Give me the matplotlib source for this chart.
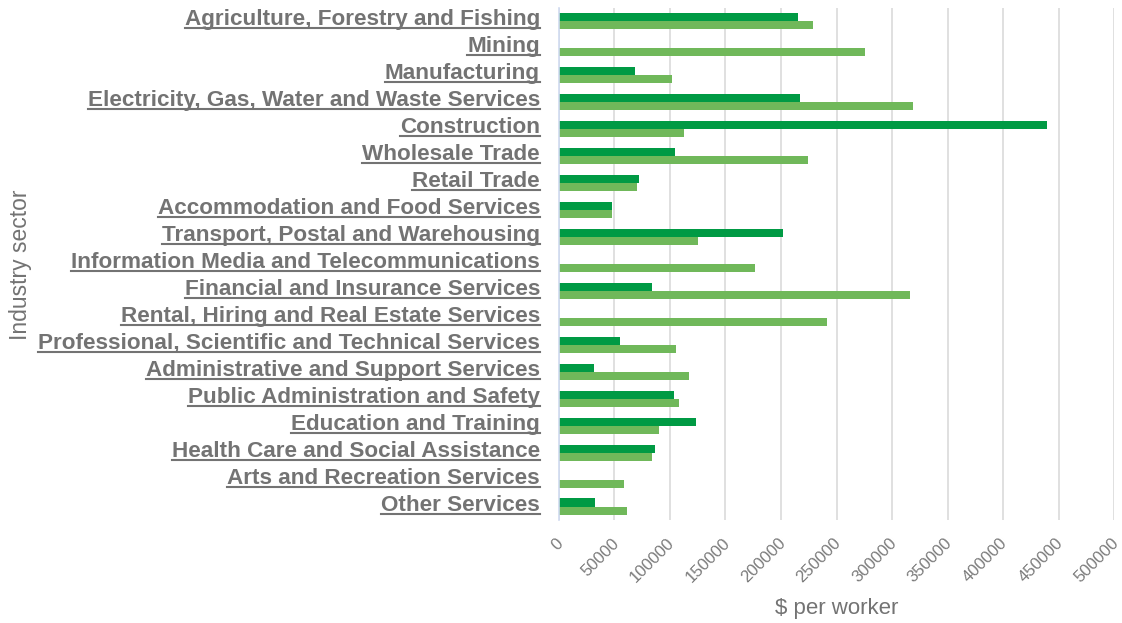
import numpy as np
import matplotlib
matplotlib.use("Agg")
import matplotlib.pyplot as plt
from matplotlib.lines import Line2D
from matplotlib.transforms import ScaledTranslation

sectors = [
    "Agriculture, Forestry and Fishing",
    "Mining",
    "Manufacturing",
    "Electricity, Gas, Water and Waste Services",
    "Construction",
    "Wholesale Trade",
    "Retail Trade",
    "Accommodation and Food Services",
    "Transport, Postal and Warehousing",
    "Information Media and Telecommunications",
    "Financial and Insurance Services",
    "Rental, Hiring and Real Estate Services",
    "Professional, Scientific and Technical Services",
    "Administrative and Support Services",
    "Public Administration and Safety",
    "Education and Training",
    "Health Care and Social Assistance",
    "Arts and Recreation Services",
    "Other Services",
]

# $ per worker, first series (dark) and second series (light); NaN = no value
series_a = [215000, np.nan, 68500, 217000, 440000, 104500, 72000, 48000,
            202000, np.nan, 84000, np.nan, 55000, 31500, 103500, 123500,
            86500, np.nan, 32500]
series_b = [229000, 275500, 102000, 318500, 112500, 224500, 70500, 48000,
            125500, 176500, 316000, 241500, 105500, 117500, 108500, 90000,
            84000, 58500, 61500]

x_ticks = list(range(0, 500001, 50000))

DARK = "#009A44"
LIGHT = "#70B85A"
TEXT = "#737373"

plt.rcParams["font.family"] = ["Liberation Sans", "DejaVu Sans"]

fig = plt.figure(figsize=(11.22, 6.23), dpi=100)
ax = fig.add_axes([0.4982, 0.1653, 0.4947, 0.822])

y = np.arange(len(sectors))
h = 0.3
ax.barh(y - h / 2, series_a, height=h, color=DARK, zorder=3)
ax.barh(y + h / 2, series_b, height=h, color=LIGHT, zorder=3)

ax.set_ylim(len(sectors) - 0.5, -0.5)
ax.set_xlim(0, 500000)
ax.set_xticks(x_ticks)
ax.set_xticklabels([str(t) for t in x_ticks], rotation=45, ha="right",
                   va="center", rotation_mode="anchor", fontsize=12,
                   color="#7A7A7A")
ax.set_yticks(y)
ax.set_yticklabels(sectors, fontsize=16.2, fontweight="bold", color=TEXT)
ax.tick_params(axis="both", length=0)
ax.tick_params(axis="x", pad=15)
ax.tick_params(axis="y", pad=13.7)

# labels sit slightly above the bar pair centre
lift = ScaledTranslation(0, 4 / 100, fig.dpi_scale_trans)
for lab in ax.get_yticklabels():
    lab.set_transform(lab.get_transform() + lift)
nudge = ScaledTranslation(2 / 100, 0, fig.dpi_scale_trans)
for lab in ax.get_xticklabels():
    lab.set_transform(lab.get_transform() + nudge)

ax.grid(axis="x", color="#E0E0E0", linewidth=1.4, zorder=0)
for side in ("top", "right", "bottom"):
    ax.spines[side].set_visible(False)
ax.spines["left"].set_color("#D0DAF0")
ax.spines["left"].set_linewidth(1.2)
ax.spines["left"].set_zorder(4)

fig.text(0.746, 0.024, "$ per worker", fontsize=16, color=TEXT,
         ha="center", va="center")
fig.text(0.018, 0.575, "Industry sector", rotation=90, fontsize=16.5,
         color=TEXT, ha="center", va="center")

# underline each category label
fig.canvas.draw()
renderer = fig.canvas.get_renderer()
inv = fig.transFigure.inverted()
for lab in ax.get_yticklabels():
    bb = lab.get_window_extent(renderer)
    (x0, y0), (x1, _) = inv.transform([(bb.x0, bb.y0 + 2.0), (bb.x1, bb.y0 + 2.0)])
    fig.add_artist(Line2D([x0, x1], [y0, y0], transform=fig.transFigure,
                          color=TEXT, linewidth=1.5))

fig.savefig("out.png", dpi=100)
